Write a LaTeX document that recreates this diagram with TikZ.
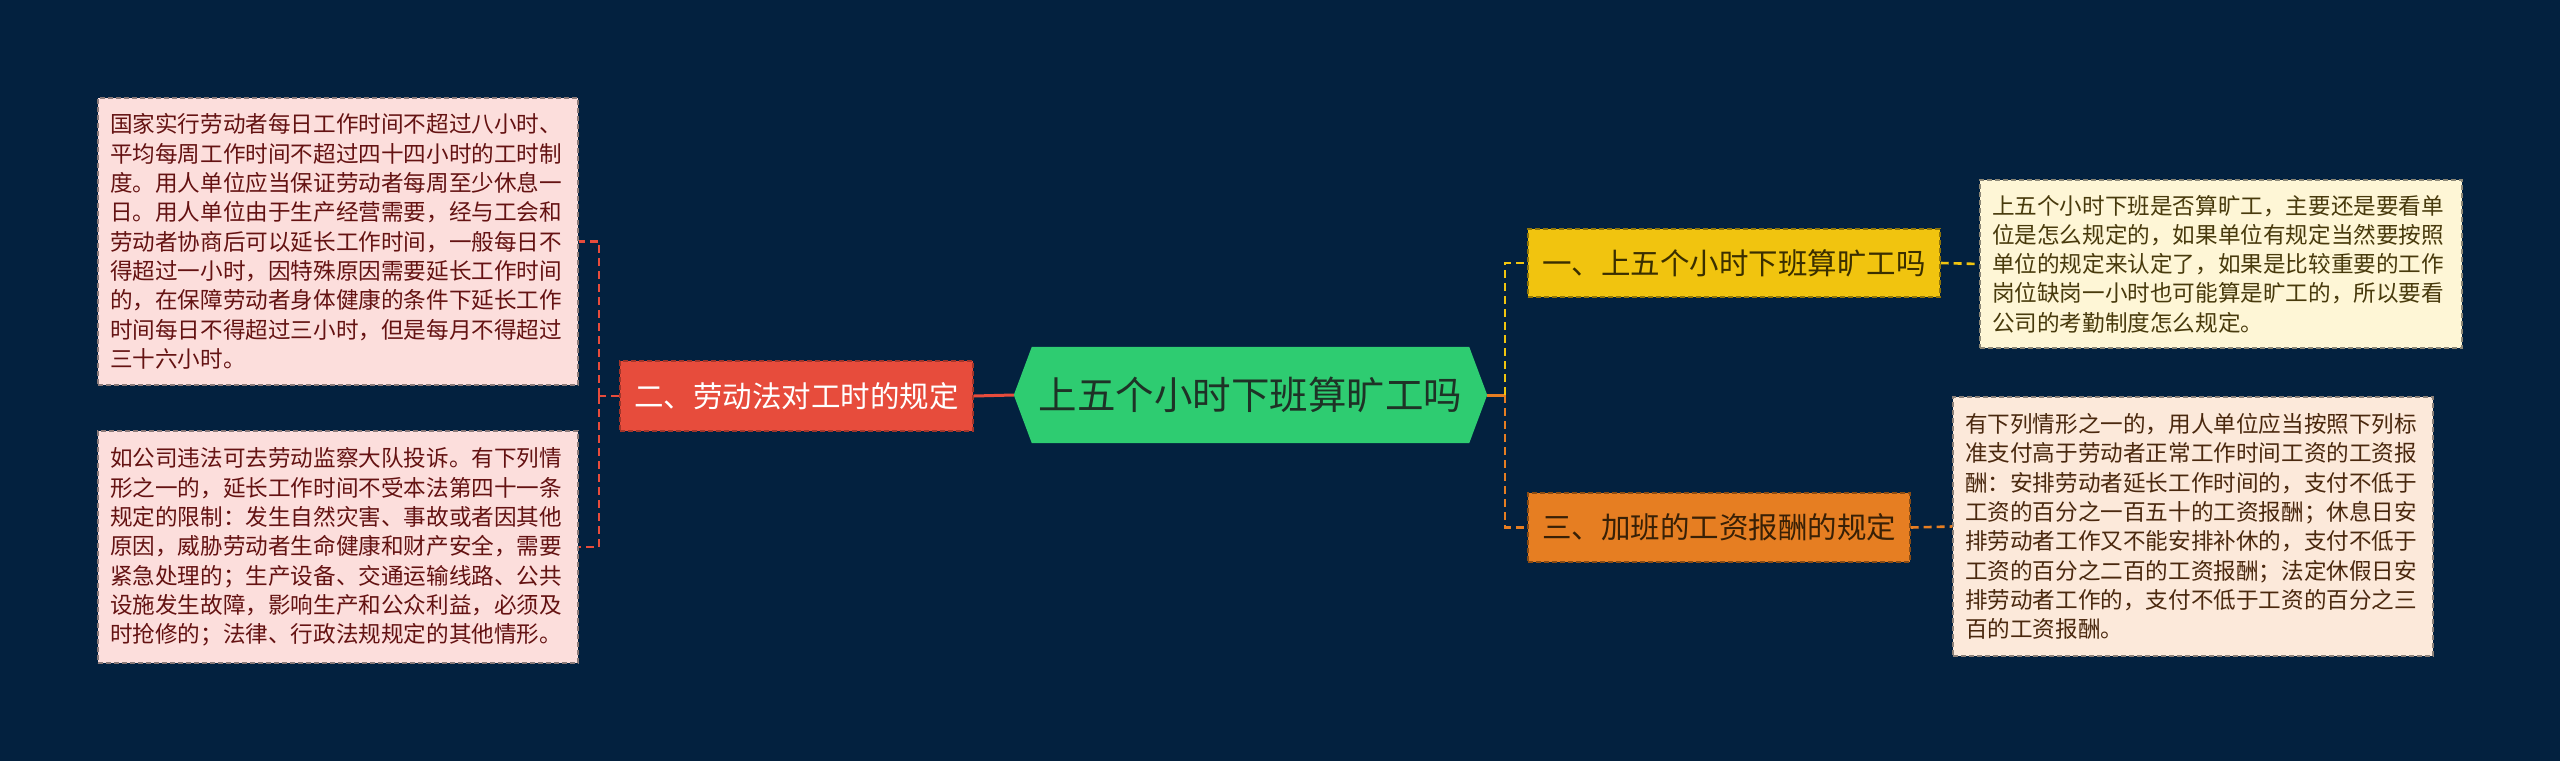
\documentclass[tikz,border=0pt]{standalone}
\usepackage{fontspec}
\setmainfont{Noto Sans CJK SC}
\usetikzlibrary{backgrounds}
\definecolor{bgnavy}{RGB}{3,33,63}
\definecolor{cred}{HTML}{E74C3C}
\definecolor{cyellow}{HTML}{F1C40F}
\definecolor{corange}{HTML}{E67E22}
\definecolor{cgreen}{HTML}{2ECC71}
\definecolor{pinkfill}{RGB}{252,222,220}
\definecolor{creamfill}{RGB}{254,246,214}
\definecolor{peachfill}{RGB}{252,233,218}
\definecolor{pinktext}{RGB}{100,18,18}
\definecolor{creamtext}{RGB}{72,58,12}
\definecolor{peachtext}{RGB}{74,40,14}
\definecolor{roottext}{RGB}{30,50,38}
\definecolor{ytext}{RGB}{58,46,0}
\definecolor{otext}{RGB}{56,32,6}
\newcommand\leaffont{\fontsize{22.6}{29.3}\selectfont}
\newcommand\branchfont{\fontsize{29.5}{34}\selectfont}
\newcommand\rootfont{\fontsize{38.5}{44}\selectfont}
\begin{document}
\begin{tikzpicture}[x=1pt,y=-1pt,
  leafbox/.style={rectangle, line width=1.4pt, dash pattern=on 5pt off 3pt,
    inner xsep=12pt, inner ysep=0pt, align=left, font=\leaffont, anchor=center},
  branchbox/.style={rectangle, line width=1.4pt, dash pattern=on 5pt off 3pt,
    inner xsep=0pt, inner ysep=0pt, font=\branchfont, anchor=center},
  conn/.style={line width=2.6pt, dash pattern=on 8pt off 5pt},
  solidconn/.style={line width=3pt}]
\useasboundingbox (0,0) rectangle (2560,761);

% root
\node[inner sep=0pt, minimum width=437pt, minimum height=96pt, font=\rootfont,
  text=roottext] (root) at (1250.5,395) {上五个小时下班算旷工吗};
\begin{scope}[on background layer]
  \fill[bgnavy] (0,0) rectangle (2560,761);
  \fill[cgreen] (root.north west) -- (root.north east) -- ([xshift=18pt]root.east)
    -- (root.south east) -- (root.south west) -- ([xshift=-18pt]root.west) -- cycle;
\end{scope}

% branches
\node[branchbox, fill=cred, draw=cred!70!black, text=white,
  minimum width=353pt, minimum height=70pt] (lawnode) at (796.5,396) {二、劳动法对工时的规定};
\node[branchbox, fill=cyellow, draw=cyellow!60!black, text=ytext,
  minimum width=412pt, minimum height=68pt] (ynode) at (1734,263) {一、上五个小时下班算旷工吗};
\node[branchbox, fill=corange, draw=corange!60!black, text=otext,
  minimum width=382pt, minimum height=69pt] (onode) at (1719,527.5) {三、加班的工资报酬的规定};

% leaves
\node[leafbox, fill=pinkfill, draw=pinkfill!55!black, text=pinktext,
  text width=456pt, minimum height=287pt] (lt) at (338,241.5) {国家实行劳动者每日工作时间不超过八小时、\\平均每周工作时间不超过四十四小时的工时制\\度。用人单位应当保证劳动者每周至少休息一\\日。用人单位由于生产经营需要，经与工会和\\劳动者协商后可以延长工作时间，一般每日不\\得超过一小时，因特殊原因需要延长工作时间\\的，在保障劳动者身体健康的条件下延长工作\\时间每日不得超过三小时，但是每月不得超过\\三十六小时。};
\node[leafbox, fill=pinkfill, draw=pinkfill!55!black, text=pinktext,
  text width=456pt, minimum height=232pt] (lb) at (338,547) {如公司违法可去劳动监察大队投诉。有下列情\\形之一的，延长工作时间不受本法第四十一条\\规定的限制：发生自然灾害、事故或者因其他\\原因，威胁劳动者生命健康和财产安全，需要\\紧急处理的；生产设备、交通运输线路、公共\\设施发生故障，影响生产和公众利益，必须及\\时抢修的；法律、行政法规规定的其他情形。};
\node[leafbox, fill=creamfill, draw=creamfill!55!black, text=creamtext,
  text width=458pt, minimum height=168pt] (tr) at (2221,264) {上五个小时下班是否算旷工，主要还是要看单\\位是怎么规定的，如果单位有规定当然要按照\\单位的规定来认定了，如果是比较重要的工作\\岗位缺岗一小时也可能算是旷工的，所以要看\\公司的考勤制度怎么规定。};
\node[leafbox, fill=peachfill, draw=peachfill!55!black, text=peachtext,
  text width=456pt, minimum height=259pt] (br) at (2193,526.5) {有下列情形之一的，用人单位应当按照下列标\\准支付高于劳动者正常工作时间工资的工资报\\酬：安排劳动者延长工作时间的，支付不低于\\工资的百分之一百五十的工资报酬；休息日安\\排劳动者工作又不能安排补休的，支付不低于\\工资的百分之二百的工资报酬；法定休假日安\\排劳动者工作的，支付不低于工资的百分之三\\百的工资报酬。};

% connectors
\coordinate (jl) at (599,396);
\coordinate (jr) at (1505,395);
\draw[solidconn, cred] (lawnode.east) -- ([xshift=-18pt]root.west);
\draw[conn, cred] (lawnode.west) -- (jl);
\draw[conn, cred] (jl) |- (lt.east);
\draw[conn, cred] (jl) |- (lb.east);
\draw[solidconn, corange] ([xshift=18pt]root.east) -- (jr);
\draw[conn, cyellow] (jr) |- (ynode.west);
\draw[conn, corange] (jr) |- (onode.west);
\draw[conn, cyellow] (ynode.east) -- (tr.west);
\draw[conn, corange] (onode.east) -- (br.west);
\end{tikzpicture}
\end{document}
